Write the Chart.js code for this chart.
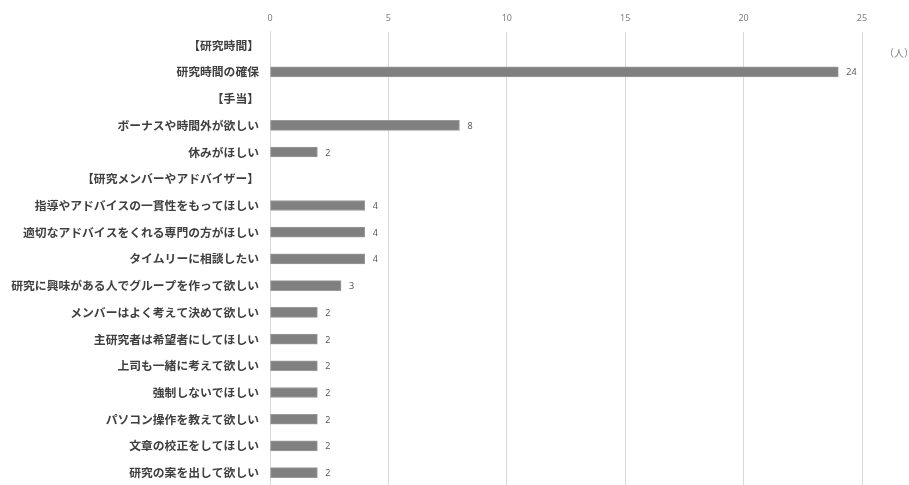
<!DOCTYPE html>
<html>
<head>
<meta charset="utf-8">
<script src="https://cdn.jsdelivr.net/npm/chart.js@4"></script>
<style>
    html, body { margin: 0; padding: 0; background: #ffffff; overflow: hidden; }
    #wrap { width: 909px; height: 500px; }
</style>
</head>
<body>
<div id="wrap"><canvas id="needsChart"></canvas></div>
<script>
const categories = [
    "【研究時間】",
    "研究時間の確保",
    "【手当】",
    "ボーナスや時間外が欲しい",
    "休みがほしい",
    "【研究メンバーやアドバイザー】",
    "指導やアドバイスの一貫性をもってほしい",
    "適切なアドバイスをくれる専門の方がほしい",
    "タイムリーに相談したい",
    "研究に興味がある人でグループを作って欲しい",
    "メンバーはよく考えて決めて欲しい",
    "主研究者は希望者にしてほしい",
    "上司も一緒に考えて欲しい",
    "強制しないでほしい",
    "パソコン操作を教えて欲しい",
    "文章の校正をしてほしい",
    "研究の案を出して欲しい",
];
const counts = [null, 24, null, 8, 2, null, 4, 4, 4, 3, 2, 2, 2, 2, 2, 2, 2];
const xTicks = [0, 5, 10, 15, 20, 25];
const unitLabel = "（人）";

const valueLabels = {
    id: "valueLabels",
    afterDatasetsDraw(chart) {
        const ctx = chart.ctx;
        const meta = chart.getDatasetMeta(0);
        ctx.save();
        ctx.font = "9px 'Noto Sans', sans-serif";
        ctx.fillStyle = "#595959";
        ctx.textAlign = "left";
        ctx.textBaseline = "middle";
        meta.data.forEach(function (bar, i) {
            if (counts[i] === null) return;
            ctx.fillText(String(counts[i]), bar.x + 8, bar.y + 1);
        });
        // unit label at right
        ctx.font = "10px 'Noto Sans CJK JP', sans-serif";
        ctx.fillStyle = "#7f7f7f";
        ctx.fillText(unitLabel, chart.chartArea.right + 22, 53);
        ctx.restore();
    },
};

const ctx = document.getElementById("needsChart").getContext("2d");
const needsChart = new Chart(ctx, {
    type: "bar",
    data: {
        labels: categories,
        datasets: [
            {
                data: counts,
                backgroundColor: "#808080",
                borderColor: "#9a9a9a",
                borderWidth: 1,
                borderSkipped: false,
                barThickness: 10,
            },
        ],
    },
    options: {
        indexAxis: "y",
        responsive: true,
        maintainAspectRatio: false,
        animation: false,
        layout: {
            padding: { top: 5, right: 47, bottom: 14, left: 0 },
        },
        plugins: {
            legend: { display: false },
            tooltip: { enabled: false },
        },
        scales: {
            x: {
                position: "top",
                min: 0,
                max: 25,
                afterBuildTicks: function (axis) {
                    axis.ticks = xTicks.map(function (v) {
                        return { value: v };
                    });
                },
                grid: {
                    color: "#d9d9d9",
                    drawTicks: false,
                },
                border: { display: false },
                ticks: {
                    color: "#7f7f7f",
                    padding: 8,
                    font: { family: "'Noto Sans', sans-serif", size: 9 },
                },
            },
            y: {
                grid: { display: false },
                border: { display: true, color: "#d9d9d9" },
                afterFit: function (axis) {
                    axis.width = 270;
                },
                ticks: {
                    color: "#404040",
                    padding: 3,
                    autoSkip: false,
                    font: {
                        family: "'Noto Sans CJK JP', sans-serif",
                        size: 11.8,
                        weight: "bold",
                    },
                },
            },
        },
    },
    plugins: [valueLabels],
});
</script>
</body>
</html>
